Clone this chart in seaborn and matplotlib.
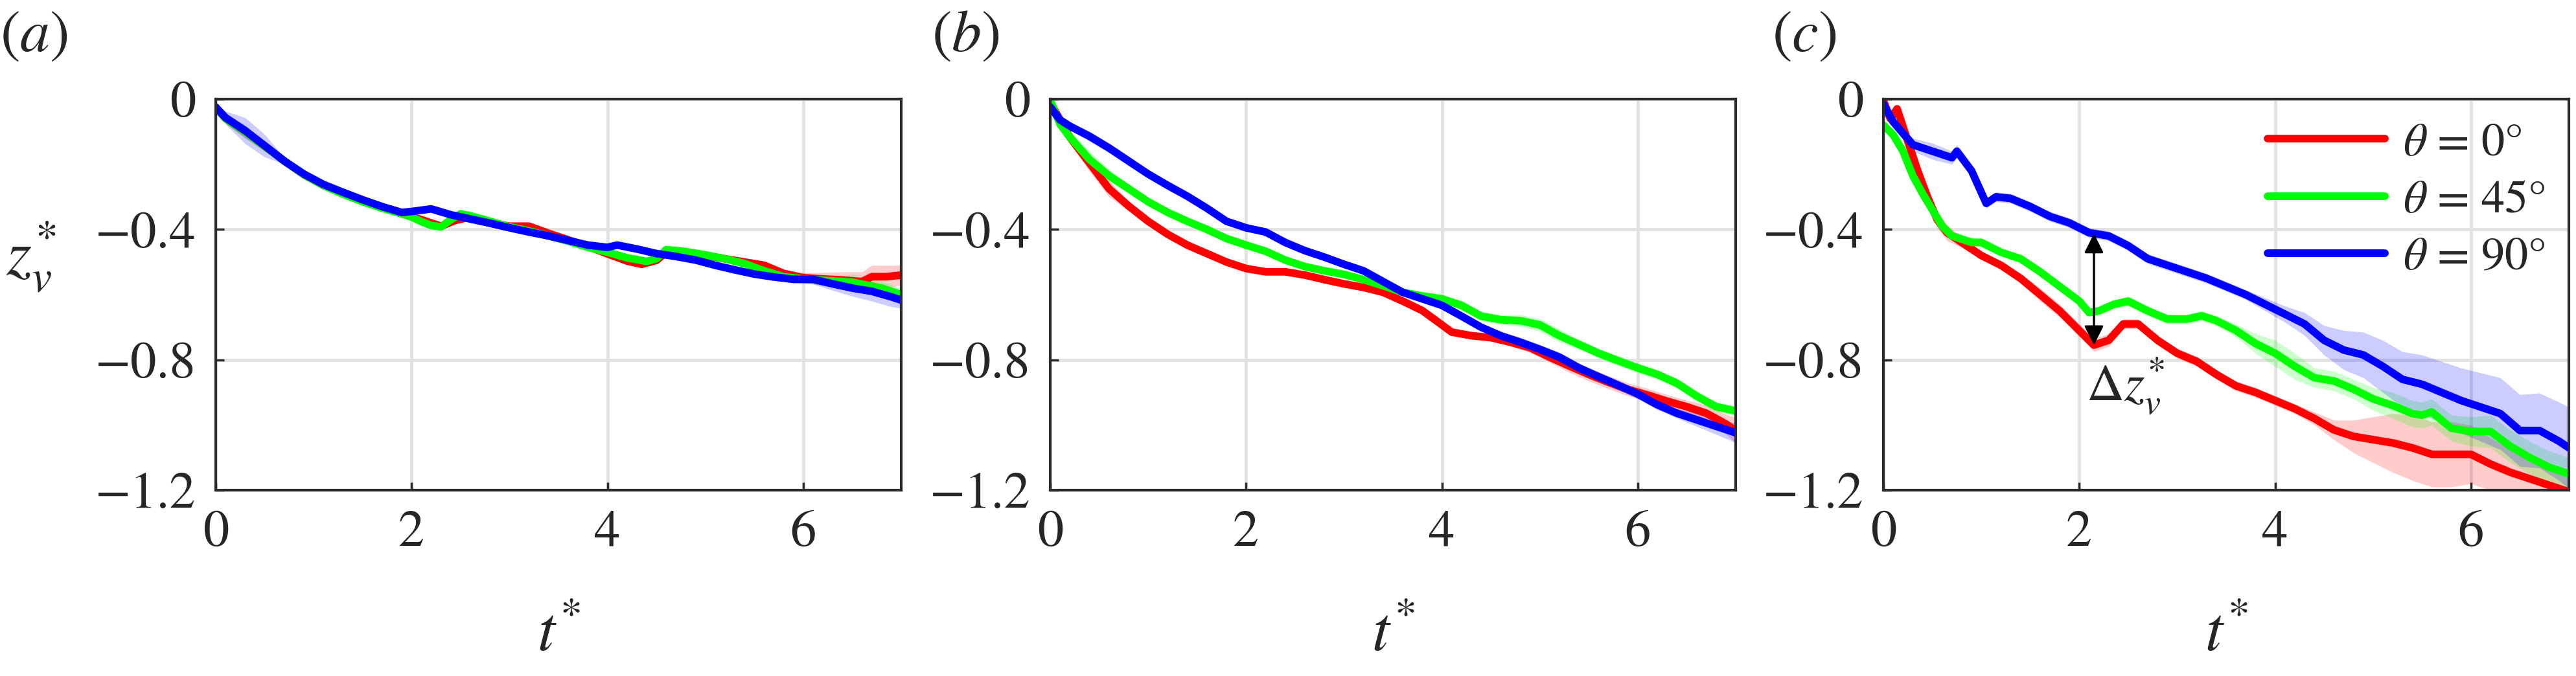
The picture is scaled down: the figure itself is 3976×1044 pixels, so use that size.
import numpy as np
import pandas as pd
import matplotlib
matplotlib.use("Agg")
import matplotlib.pyplot as plt
import seaborn as sns
from matplotlib.ticker import FixedLocator, FixedFormatter

sns.set_style("white")
plt.rcParams["font.family"] = ["STIXGeneral", "DejaVu Serif"]
plt.rcParams["mathtext.fontset"] = "stix"
plt.rcParams["axes.unicode_minus"] = True

RED, GREEN, BLUE = "#ff0000", "#00ff00", "#0000ff"

# ---------------- panel (a) ----------------
t_a_red = [0, 0.1, 0.3, 0.5, 0.7, 0.9, 1.1, 1.3, 1.5, 1.7, 1.9, 2.1, 2.3, 2.45, 2.6, 2.8, 3.0, 3.2, 3.4, 3.6,
           3.8, 4.0, 4.2, 4.35, 4.5, 4.6, 4.8, 5.0, 5.2, 5.4, 5.6, 5.8, 6.0, 6.2, 6.4, 6.6, 6.7, 6.85, 7.0]
z_a_red = [-0.025, -0.06, -0.1, -0.145, -0.19, -0.232, -0.265, -0.29, -0.312, -0.333, -0.352, -0.37, -0.39, -0.372,
           -0.362, -0.38, -0.39, -0.39, -0.412, -0.432, -0.452, -0.475, -0.497, -0.507, -0.495, -0.47, -0.472, -0.48,
           -0.49, -0.5, -0.51, -0.535, -0.548, -0.552, -0.555, -0.56, -0.545, -0.545, -0.54]
s_a_red = [0.005, 0.015, 0.02, 0.015, 0.008, 0.006, 0.006, 0.006, 0.006, 0.006, 0.006, 0.006, 0.008, 0.008,
           0.006, 0.006, 0.006, 0.006, 0.006, 0.006, 0.006, 0.006, 0.008, 0.008, 0.008, 0.008, 0.006, 0.006,
           0.006, 0.006, 0.008, 0.01, 0.015, 0.02, 0.025, 0.03, 0.035, 0.035, 0.03]

t_a_green = [0, 0.1, 0.3, 0.5, 0.7, 0.9, 1.1, 1.3, 1.5, 1.7, 1.9, 2.0, 2.1, 2.2, 2.3, 2.4, 2.5, 2.6, 2.8, 3.0,
             3.2, 3.4, 3.6, 3.8, 4.0, 4.2, 4.4, 4.5, 4.6, 4.8, 5.0, 5.2, 5.4, 5.6, 5.8, 6.0, 6.2, 6.5, 6.8, 7.0]
z_a_green = [-0.025, -0.06, -0.1, -0.145, -0.19, -0.232, -0.265, -0.292, -0.315, -0.335, -0.352, -0.362, -0.376,
             -0.388, -0.392, -0.37, -0.352, -0.358, -0.375, -0.392, -0.405, -0.42, -0.436, -0.455, -0.47, -0.487,
             -0.498, -0.49, -0.462, -0.468, -0.478, -0.49, -0.505, -0.527, -0.545, -0.552, -0.556, -0.562, -0.58, -0.6]
s_a_green = [0.005, 0.015, 0.02, 0.015, 0.008, 0.006, 0.006, 0.006, 0.006, 0.006, 0.006, 0.006, 0.006,
             0.008, 0.008, 0.008, 0.006, 0.006, 0.006, 0.006, 0.006, 0.006, 0.006, 0.006, 0.006, 0.008,
             0.008, 0.008, 0.008, 0.006, 0.006, 0.006, 0.008, 0.008, 0.01, 0.012, 0.015, 0.02, 0.02, 0.02]

t_a_blue = [0, 0.1, 0.3, 0.5, 0.7, 0.9, 1.1, 1.3, 1.5, 1.7, 1.9, 2.0, 2.2, 2.4, 2.6, 2.8, 3.0, 3.2, 3.4, 3.6,
            3.8, 4.0, 4.1, 4.3, 4.5, 4.7, 4.9, 5.1, 5.3, 5.5, 5.7, 5.9, 6.1, 6.3, 6.5, 6.7, 6.9, 7.0]
z_a_blue = [-0.025, -0.057, -0.097, -0.143, -0.19, -0.23, -0.262, -0.286, -0.309, -0.33, -0.348, -0.345, -0.337,
            -0.355, -0.368, -0.381, -0.395, -0.408, -0.42, -0.434, -0.448, -0.455, -0.448, -0.46, -0.474, -0.483,
            -0.494, -0.51, -0.524, -0.537, -0.546, -0.553, -0.553, -0.567, -0.58, -0.59, -0.607, -0.617]
s_a_blue = [0.005, 0.02, 0.04, 0.035, 0.01, 0.008, 0.006, 0.006, 0.006, 0.006, 0.006, 0.006, 0.006,
            0.006, 0.006, 0.006, 0.006, 0.006, 0.006, 0.006, 0.006, 0.006, 0.006, 0.006, 0.006, 0.006,
            0.006, 0.006, 0.006, 0.008, 0.01, 0.012, 0.015, 0.02, 0.025, 0.03, 0.03, 0.025]

# ---------------- panel (b) ----------------
t_b_red = [0, 0.2, 0.4, 0.6, 0.8, 1.0, 1.2, 1.4, 1.6, 1.8, 2.0, 2.2, 2.4, 2.6, 2.8, 3.0, 3.2, 3.4, 3.6, 3.8,
           4.0, 4.1, 4.3, 4.5, 4.7, 4.9, 5.1, 5.3, 5.5, 5.7, 5.9, 6.1, 6.3, 6.5, 6.7, 6.9, 7.0]
z_b_red = [-0.01, -0.117, -0.196, -0.275, -0.328, -0.375, -0.415, -0.448, -0.474, -0.5, -0.52, -0.53, -0.53,
           -0.54, -0.554, -0.567, -0.578, -0.593, -0.62, -0.649, -0.693, -0.715, -0.726, -0.732, -0.746, -0.763,
           -0.792, -0.819, -0.845, -0.869, -0.891, -0.908, -0.927, -0.944, -0.964, -0.997, -1.017]
s_b_red = [0.005, 0.02, 0.025, 0.025, 0.015, 0.01, 0.01, 0.01, 0.01, 0.01, 0.01, 0.01, 0.01,
           0.01, 0.01, 0.01, 0.01, 0.01, 0.01, 0.01, 0.01, 0.01, 0.01, 0.01, 0.012, 0.015,
           0.015, 0.02, 0.02, 0.02, 0.02, 0.02, 0.02, 0.02, 0.025, 0.03, 0.04]

t_b_green = [0, 0.1, 0.2, 0.4, 0.6, 0.8, 1.0, 1.2, 1.4, 1.6, 1.8, 2.0, 2.2, 2.4, 2.6, 2.8, 3.0, 3.2, 3.4, 3.6,
             3.8, 4.0, 4.2, 4.4, 4.6, 4.8, 5.0, 5.2, 5.4, 5.6, 5.8, 6.0, 6.2, 6.4, 6.6, 6.8, 7.0]
z_b_green = [-0.004, -0.077, -0.117, -0.185, -0.235, -0.275, -0.315, -0.348, -0.375, -0.40, -0.428, -0.448,
             -0.467, -0.494, -0.514, -0.527, -0.538, -0.554, -0.573, -0.593, -0.604, -0.613, -0.633, -0.666,
             -0.677, -0.68, -0.693, -0.726, -0.753, -0.78, -0.803, -0.825, -0.845, -0.872, -0.911, -0.944, -0.957]
s_b_green = [0.005, 0.015, 0.02, 0.025, 0.02, 0.012, 0.01, 0.01, 0.01, 0.01, 0.01, 0.01, 0.01,
             0.01, 0.01, 0.01, 0.01, 0.01, 0.01, 0.01, 0.01, 0.012, 0.015, 0.015, 0.015, 0.018,
             0.02, 0.02, 0.015, 0.015, 0.015, 0.015, 0.015, 0.015, 0.015, 0.015, 0.015]

t_b_blue = [0, 0.1, 0.2, 0.4, 0.6, 0.8, 1.0, 1.2, 1.4, 1.6, 1.8, 2.0, 2.2, 2.4, 2.6, 2.8, 3.0, 3.2, 3.4, 3.6,
            3.8, 4.0, 4.2, 4.4, 4.6, 4.8, 5.0, 5.2, 5.4, 5.6, 5.8, 6.0, 6.2, 6.4, 6.6, 6.8, 7.0]
z_b_blue = [-0.024, -0.064, -0.083, -0.114, -0.15, -0.19, -0.23, -0.265, -0.298, -0.335, -0.375, -0.395,
            -0.408, -0.44, -0.465, -0.485, -0.507, -0.527, -0.56, -0.593, -0.613, -0.633, -0.666, -0.70,
            -0.726, -0.746, -0.768, -0.792, -0.825, -0.852, -0.878, -0.905, -0.938, -0.964, -0.984, -1.004, -1.024]
s_b_blue = [0.005, 0.01, 0.012, 0.015, 0.015, 0.015, 0.012, 0.012, 0.012, 0.012, 0.01, 0.01, 0.01,
            0.01, 0.01, 0.01, 0.01, 0.01, 0.01, 0.01, 0.01, 0.01, 0.01, 0.01, 0.012, 0.015,
            0.015, 0.015, 0.015, 0.015, 0.015, 0.015, 0.015, 0.015, 0.02, 0.025, 0.03]

# ---------------- panel (c) ----------------
t_c_red = [0, 0.07, 0.14, 0.25, 0.35, 0.45, 0.55, 0.65, 0.8, 1.0, 1.2, 1.4, 1.6, 1.8, 2.0, 2.15, 2.3, 2.45,
           2.6, 2.8, 3.0, 3.2, 3.4, 3.6, 3.8, 4.0, 4.2, 4.4, 4.6, 4.8, 5.0, 5.2, 5.4, 5.6, 5.8, 6.0, 6.2, 6.4,
           6.6, 6.8, 7.0]
z_c_red = [-0.005, -0.06, -0.03, -0.13, -0.22, -0.30, -0.37, -0.41, -0.44, -0.48, -0.51, -0.55, -0.60, -0.65,
           -0.71, -0.755, -0.74, -0.69, -0.69, -0.74, -0.78, -0.805, -0.845, -0.88, -0.90, -0.925, -0.95, -0.98,
           -1.015, -1.035, -1.045, -1.055, -1.07, -1.09, -1.09, -1.09, -1.12, -1.145, -1.165, -1.185, -1.205]
s_c_red = [0.005, 0.01, 0.01, 0.015, 0.02, 0.025, 0.025, 0.025, 0.015, 0.012, 0.012, 0.015, 0.02, 0.02,
           0.02, 0.02, 0.02, 0.015, 0.015, 0.015, 0.015, 0.015, 0.015, 0.015, 0.015, 0.015, 0.015, 0.02,
           0.03, 0.05, 0.07, 0.09, 0.1, 0.1, 0.1, 0.09, 0.08, 0.07, 0.06, 0.05, 0.04]

t_c_green = [0, 0.1, 0.2, 0.3, 0.4, 0.5, 0.6, 0.7, 0.9, 1.0, 1.2, 1.4, 1.6, 1.8, 2.0, 2.1, 2.2, 2.35, 2.5, 2.7,
             2.9, 3.1, 3.25, 3.4, 3.6, 3.8, 4.0, 4.2, 4.4, 4.6, 4.8, 5.0, 5.2, 5.4, 5.5, 5.6, 5.8, 6.0, 6.2, 6.4,
             6.6, 6.8, 7.0]
z_c_green = [-0.08, -0.11, -0.16, -0.235, -0.29, -0.34, -0.39, -0.42, -0.44, -0.44, -0.47, -0.49, -0.53, -0.575,
             -0.62, -0.655, -0.65, -0.63, -0.62, -0.65, -0.675, -0.675, -0.665, -0.68, -0.71, -0.75, -0.78, -0.82,
             -0.855, -0.865, -0.89, -0.92, -0.94, -0.965, -0.97, -0.96, -1.01, -1.02, -1.02, -1.065, -1.1, -1.13,
             -1.15]
s_c_green = [0.005, 0.01, 0.015, 0.02, 0.02, 0.02, 0.02, 0.015, 0.015, 0.012, 0.012, 0.012, 0.012, 0.012,
             0.012, 0.012, 0.012, 0.012, 0.015, 0.015, 0.015, 0.015, 0.015, 0.015, 0.02, 0.03, 0.04, 0.04,
             0.03, 0.03, 0.03, 0.035, 0.04, 0.04, 0.04, 0.04, 0.04, 0.045, 0.05, 0.05, 0.05, 0.05, 0.05]

t_c_blue = [0, 0.1, 0.3, 0.5, 0.7, 0.75, 0.9, 1.05, 1.15, 1.3, 1.5, 1.7, 1.9, 2.1, 2.3, 2.5, 2.7, 2.9, 3.1,
            3.3, 3.5, 3.7, 3.9, 4.1, 4.3, 4.5, 4.7, 4.9, 5.1, 5.3, 5.5, 5.7, 5.9, 6.1, 6.3, 6.5, 6.7, 6.9, 7.0]
z_c_blue = [-0.015, -0.07, -0.14, -0.16, -0.18, -0.16, -0.22, -0.32, -0.30, -0.305, -0.33, -0.36, -0.38,
            -0.41, -0.42, -0.45, -0.49, -0.51, -0.53, -0.55, -0.575, -0.60, -0.63, -0.66, -0.69, -0.74, -0.77,
            -0.785, -0.82, -0.86, -0.875, -0.90, -0.925, -0.945, -0.965, -1.017, -1.017, -1.05, -1.07]
s_c_blue = [0.005, 0.01, 0.02, 0.025, 0.02, 0.02, 0.015, 0.015, 0.015, 0.015, 0.015, 0.015, 0.015,
            0.015, 0.015, 0.015, 0.015, 0.015, 0.015, 0.015, 0.015, 0.015, 0.02, 0.025, 0.035, 0.045, 0.06,
            0.07, 0.08, 0.085, 0.09, 0.095, 0.1, 0.105, 0.11, 0.11, 0.115, 0.12, 0.125]

labels = ["$\\theta$ = 0\u00b0", "$\\theta$ = 45\u00b0", "$\\theta$ = 90\u00b0"]
panel_tags = [r"($a$)", r"($b$)", r"($c$)"]
x_ticks = [0, 2, 4, 6]
y_ticks = [0, -0.4, -0.8, -1.2]
y_tick_labels = ["0", "\u22120.4", "\u22120.8", "\u22121.2"]
arrow_t = 2.15

panels = [
    [(t_a_red, z_a_red, s_a_red), (t_a_green, z_a_green, s_a_green), (t_a_blue, z_a_blue, s_a_blue)],
    [(t_b_red, z_b_red, s_b_red), (t_b_green, z_b_green, s_b_green), (t_b_blue, z_b_blue, s_b_blue)],
    [(t_c_red, z_c_red, s_c_red), (t_c_green, z_c_green, s_c_green), (t_c_blue, z_c_blue, s_c_blue)],
]
colors = [RED, GREEN, BLUE]


def band_frame(t, z, s):
    # three rows per time: lower edge, mean, upper edge -> seaborn draws min/max band
    t = np.asarray(t)
    z = np.asarray(z)
    s = np.asarray(s)
    return pd.DataFrame({"t": np.concatenate([t, t, t]),
                         "z": np.concatenate([z - s, z, z + s])})


W, H = 3976, 1044
fig = plt.figure(figsize=(W / 100, H / 100), dpi=100)
lefts = [333, 1621, 2907]
tag_x = [0, 1438, 2735]
ax_w, ax_top, ax_bot = 1058, 153, 757

axes = []
for i, series in enumerate(panels):
    ax = fig.add_axes([lefts[i] / W, (H - ax_bot) / H, ax_w / W, (ax_bot - ax_top) / H])
    axes.append(ax)
    for (t, z, s), col, lab in zip(series, colors, labels):
        sns.lineplot(data=band_frame(t, z, s), x="t", y="z", estimator="median",
                     errorbar=("pi", 100), color=col, lw=8.5, ax=ax,
                     label=lab if i == 2 else None,
                     err_kws={"alpha": 0.2, "lw": 0})
    ax.set_xlim(0, 7)
    ax.set_ylim(-1.2, 0)
    ax.xaxis.set_major_locator(FixedLocator(x_ticks))
    ax.yaxis.set_major_locator(FixedLocator(y_ticks))
    ax.yaxis.set_major_formatter(FixedFormatter(y_tick_labels))
    ax.grid(True, color="#e2e2e2", lw=3.5)
    ax.set_axisbelow(True)
    for sp in ax.spines.values():
        sp.set_color("#2b2b2b")
        sp.set_linewidth(3)
    ax.tick_params(direction="in", length=9, width=2.5, color="#2b2b2b",
                   labelsize=58, pad=22, bottom=True, left=True)
    ax.set_xlabel(r"$t^{*}$", fontsize=70)
    ax.xaxis.set_label_coords(0.5, -0.30)
    if i == 0:
        ax.set_ylabel(r"$z_v^{*}$", fontsize=72, rotation=0)
        ax.yaxis.set_label_coords(-0.27, 0.5)
    else:
        ax.set_ylabel("")
    if ax.get_legend() is not None and i != 2:
        ax.get_legend().remove()
    fig.text(tag_x[i] / W, 1 - 58 / H, panel_tags[i], fontsize=66, ha="left", va="center")

# legend in panel (c)
axc = axes[2]
axc.legend(loc="upper right", frameon=False, fontsize=52, handlelength=2.5,
           handletextpad=0.4, labelspacing=0.3, borderaxespad=0.1)

# arrow between blue and red curves in panel (c)
z_top = np.interp(arrow_t, t_c_blue, z_c_blue)
z_bottom = np.interp(arrow_t, t_c_red, z_c_red)
axc.annotate("", xy=(arrow_t, z_bottom), xytext=(arrow_t, z_top),
             arrowprops=dict(arrowstyle="<|-|>", color="black", lw=2.5,
                             mutation_scale=45, shrinkA=0, shrinkB=0))
axc.text(arrow_t - 0.08, z_bottom - 0.125, r"$\Delta z_v^{*}$", fontsize=58, ha="left", va="center")

fig.savefig("out.png", dpi=100)
